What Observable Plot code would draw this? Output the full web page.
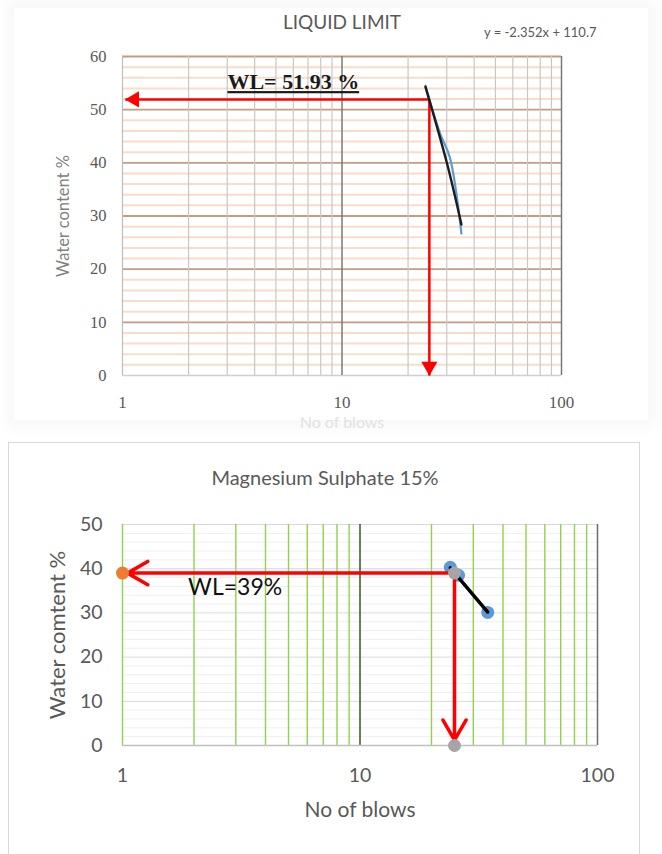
<!DOCTYPE html>
<html>
<head>
<meta charset="utf-8">
<script src="https://cdn.jsdelivr.net/npm/d3@7"></script>
<script src="https://cdn.jsdelivr.net/npm/@observablehq/plot@0.6"></script>
<style>
  html, body { margin: 0; padding: 0; background: #fff; }
  #page { position: relative; width: 662px; height: 854px; overflow: hidden; background: #fff; }
  #halo { position: absolute; left: 14px; top: 8px; width: 634px; height: 412px; box-shadow: 0 0 14px 8px rgba(0,0,0,0.03); background: #fff; }
  #top { position: absolute; left: 0; top: 0; }
  #bottom { position: absolute; left: 0; top: 430px; }
  #box { position: absolute; left: 8px; top: 442px; width: 630px; height: 430px; border: 1.5px solid #d9d9d9; pointer-events: none; }
</style>
</head>
<body>
<div id="page">
  <div id="halo"></div>
  <div id="top"></div>
  <div id="bottom"></div>
  <div id="box"></div>
</div>
<script>
// ---------- shared tick / grid values ----------
const xTickLabels = [1, 10, 100];
const xMinorGrid = [2, 3, 4, 5, 6, 7, 8, 9, 20, 30, 40, 50, 60, 70, 80, 90];

// ---------- top chart: LIQUID LIMIT ----------
const topTitle = "LIQUID LIMIT";
const topEquation = "y = -2.352x + 110.7";
const topYTicks = [0, 10, 20, 30, 40, 50, 60];
const topYMinor = [2, 4, 6, 8, 12, 14, 16, 18, 22, 24, 26, 28, 32, 34, 36, 38, 42, 44, 46, 48, 52, 54, 56, 58];
const topBlows = [24, 28, 31, 35];
const topWater = [54.5, 45.5, 41, 26.7];
const topTrendBlows = [24, 30, 35];
const topTrendWater = [54.3, 40.1, 28.4];
const topWL = 51.93;
const topWLBlows = 25;
const topLabel = {x: 6, y: 55.2, text: "WL= 51.93 %"};

// ---------- bottom chart: Magnesium Sulphate 15% ----------
const botTitle = "Magnesium Sulphate 15%";
const botYTicks = [0, 10, 20, 30, 40, 50];
const botYMinor = [2, 4, 6, 8, 12, 14, 16, 18, 22, 24, 26, 28, 32, 34, 36, 38, 42, 44, 46, 48];
const botBlows = [24, 26, 34.5];
const botWater = [40.3, 38.5, 30.1];
const botTrendBlows = [24, 34.5];
const botTrendWater = [40.2, 30.2];
const botWL = 39;
const botWLBlows = 25;
const botLabel = {x: 2.98, y: 35.7, text: "WL=39%"};

const topSeries = topBlows.map((x, i) => ({x, y: topWater[i]}));
const topTrend = topTrendBlows.map((x, i) => ({x, y: topTrendWater[i]}));
const botSeries = botBlows.map((x, i) => ({x, y: botWater[i]}));
const botTrend = botTrendBlows.map((x, i) => ({x, y: botTrendWater[i]}));

const sans = "Lato, 'Open Sans', sans-serif";
const serif = "'Liberation Serif', 'DejaVu Serif', serif";
const mid = {lineAnchor: "middle"};

// ===== TOP =====
const topPlot = Plot.plot({
  width: 662, height: 430,
  marginLeft: 122, marginRight: 101, marginTop: 56, marginBottom: 55,
  x: {type: "log", domain: [1, 100], axis: null},
  y: {domain: [0, 60], axis: null},
  style: {background: "transparent", overflow: "visible"},
  marks: [
    Plot.ruleY(topYMinor, {y: d => d, stroke: "#fbdcc6", strokeWidth: 2}),
    Plot.ruleY(topYTicks.filter(d => d > 0), {y: d => d, stroke: "#c69c7c", strokeWidth: 1.8}),
    Plot.ruleY([0], {y: d => d, stroke: "#cfcfcf", strokeWidth: 1.5}),
    Plot.ruleX(xMinorGrid, {x: d => d, stroke: "#c8c8c8", strokeWidth: 1.2}),
    Plot.ruleX([1], {x: d => d, stroke: "#bdbdbd", strokeWidth: 1.2}),
    Plot.ruleX([10, 100], {x: d => d, stroke: "#7a7a7a", strokeWidth: 1.5}),
    Plot.link([{x1: topWLBlows, y1: topWL, x2: 1.03, y2: topWL}, {x1: topWLBlows, y1: topWL, x2: topWLBlows, y2: 0}],
      {x1: "x1", y1: "y1", x2: "x2", y2: "y2", stroke: "#ff0000", strokeWidth: 2.5}),
    Plot.dot([{x: 1.03, y: topWL}], {x: "x", y: "y", symbol: "triangle", r: 6, rotate: -90, dx: 9, fill: "#ff0000", stroke: "none"}),
    Plot.dot([{x: topWLBlows, y: 0}], {x: "x", y: "y", symbol: "triangle", r: 6, rotate: 180, dy: -9, fill: "#ff0000", stroke: "none"}),
    Plot.line(topSeries, {x: "x", y: "y", curve: "catmull-rom", stroke: "#5b9bd5", strokeWidth: 2.2}),
    Plot.line(topTrend, {x: "x", y: "y", curve: "catmull-rom", stroke: "#1c1c1c", strokeWidth: 2.4}),
    Plot.text([topLabel], {x: "x", y: "y", text: "text", fontFamily: serif, fontWeight: "bold", fontSize: 22, fill: "#1a1a1a"}),
    // tick labels
    Plot.text(xTickLabels, {...mid, x: d => d, text: d => String(d), frameAnchor: "bottom", dy: 27, fontFamily: serif, fontSize: 17, fill: "#595959"}),
    Plot.text(topYTicks, {...mid, y: d => d, text: d => String(d), frameAnchor: "left", dx: -16, textAnchor: "end", fontFamily: serif, fontSize: 16.5, fill: "#595959"}),
    // titles
    Plot.text([topTitle], {...mid, frameAnchor: "top", dy: -34, text: d => d, fontFamily: sans, fontSize: 19, fill: "#595959"}),
    Plot.text([topEquation], {...mid, frameAnchor: "top-right", dx: 35, dy: -24, textAnchor: "end", text: d => d, fontFamily: sans, fontSize: 13, fill: "#595959"}),
    Plot.text(["Water content %"], {...mid, frameAnchor: "left", textAnchor: "middle", dx: -59, rotate: -90, text: d => d, fontFamily: sans, fontSize: 16.5, fill: "#808080"}),
    Plot.text(["No of blows"], {...mid, frameAnchor: "bottom", dy: 47, text: d => d, fontFamily: sans, fontSize: 16, fill: "#e2e2e2"})
  ]
});
document.getElementById("top").appendChild(topPlot);
d3.select(topPlot).selectAll("text").filter(function() { return this.textContent.startsWith("WL="); })
  .attr("text-decoration", "underline");

// ===== BOTTOM =====
const botPlot = Plot.plot({
  width: 662, height: 424,
  marginLeft: 122, marginRight: 65, marginTop: 94, marginBottom: 109,
  x: {type: "log", domain: [1, 100], axis: null},
  y: {domain: [0, 50], axis: null},
  style: {background: "transparent", overflow: "visible"},
  marks: [
    Plot.ruleY(botYMinor, {y: d => d, stroke: "#efefef", strokeWidth: 1}),
    Plot.ruleY(botYTicks.filter(d => d > 0), {y: d => d, stroke: "#d9d9d9", strokeWidth: 1}),
    Plot.ruleX(xMinorGrid, {x: d => d, stroke: "#92d050", strokeWidth: 1.4}),
    Plot.ruleX([1], {x: d => d, stroke: "#92d050", strokeWidth: 1.4}),
    Plot.ruleX([10], {x: d => d, stroke: "#375623", strokeWidth: 1.5}),
    Plot.ruleX([100], {x: d => d, stroke: "#6b6b6b", strokeWidth: 1.5}),
    Plot.ruleY([0], {y: d => d, stroke: "#bfbfbf", strokeWidth: 1.5}),
    Plot.dot(botSeries, {x: "x", y: "y", r: 6.5, fill: "#5b9bd5", stroke: "none"}),
    Plot.line(botTrend, {x: "x", y: "y", stroke: "#000", strokeWidth: 3.5}),
    Plot.arrow([{x1: botWLBlows, y1: botWL, x2: 1.05, y2: botWL}, {x1: botWLBlows, y1: botWL, x2: botWLBlows, y2: 1.2}],
      {x1: "x1", y1: "y1", x2: "x2", y2: "y2", stroke: "#ff0000", strokeWidth: 3.5, headLength: 10, headAngle: 60}),
    Plot.dot([{x: botWLBlows, y: botWL}, {x: botWLBlows, y: 0}], {x: "x", y: "y", r: 6.5, fill: "#a5a5a5", stroke: "none"}),
    Plot.dot([{x: 1, y: botWL}], {x: "x", y: "y", r: 6.5, fill: "#ed7d31", stroke: "none"}),
    Plot.text([botLabel], {x: "x", y: "y", text: "text", fontFamily: sans, fontSize: 23, fill: "#111"}),
    Plot.text(xTickLabels, {...mid, x: d => d, text: d => String(d), frameAnchor: "bottom", dy: 30, fontFamily: sans, fontSize: 19.5, fill: "#595959"}),
    Plot.text(botYTicks, {...mid, y: d => d, text: d => String(d), frameAnchor: "left", dx: -20, textAnchor: "end", fontFamily: sans, fontSize: 19.5, fill: "#595959"}),
    Plot.text([botTitle], {...mid, frameAnchor: "top", dx: -35, dy: -46, text: d => d, fontFamily: sans, fontSize: 20, fill: "#595959"}),
    Plot.text(["Water comtent %"], {...mid, frameAnchor: "left", textAnchor: "middle", dx: -65, rotate: -90, text: d => d, fontFamily: sans, fontSize: 22, fill: "#595959"}),
    Plot.text(["No of blows"], {...mid, frameAnchor: "bottom", dy: 65, text: d => d, fontFamily: sans, fontSize: 21, fill: "#595959"})
  ]
});
document.getElementById("bottom").appendChild(botPlot);
</script>
</body>
</html>
